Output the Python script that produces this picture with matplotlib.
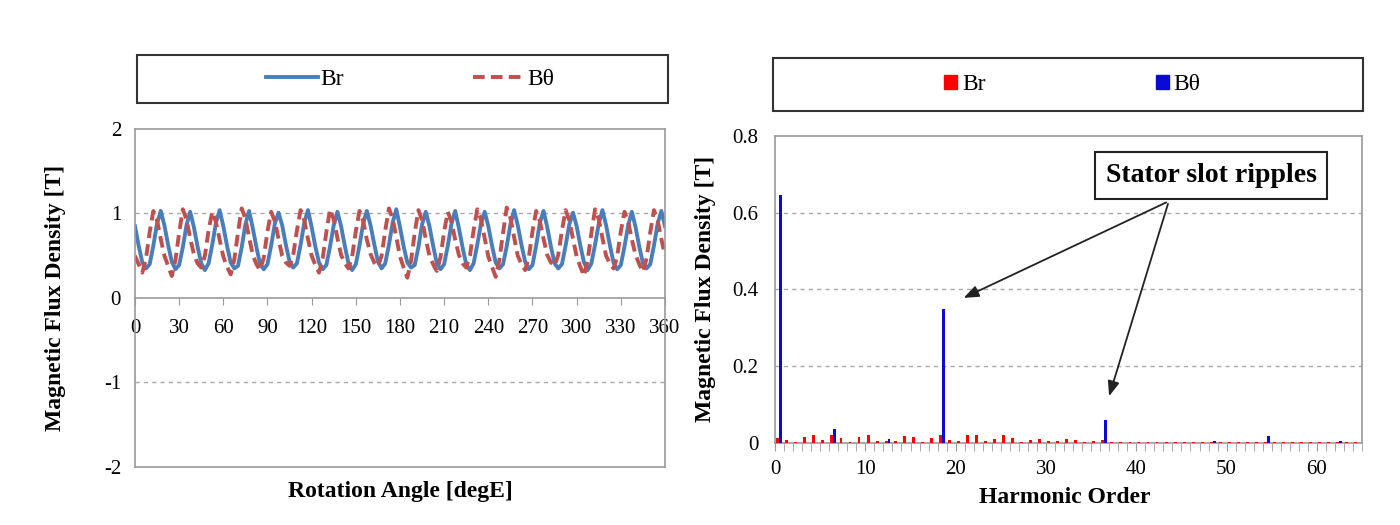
import numpy as np
import matplotlib
matplotlib.use("Agg")
import matplotlib.pyplot as plt
from matplotlib.patches import Rectangle, Patch
from matplotlib.lines import Line2D

plt.rcParams['font.family'] = ['Liberation Serif', 'DejaVu Serif']
plt.rcParams['axes.unicode_minus'] = False

# ---- left panel: waveforms, sampled every 2.5 degE ----
angle = np.linspace(0, 360, 145)
br = [
    0.85, 0.62, 0.42, 0.35, 0.40, 0.62, 0.88, 1.03,
    0.86, 0.63, 0.43, 0.34, 0.39, 0.60, 0.86, 1.02,
    0.84, 0.61, 0.41, 0.33, 0.41, 0.63, 0.89, 1.04,
    0.85, 0.62, 0.42, 0.35, 0.38, 0.60, 0.87, 1.03,
    0.83, 0.60, 0.40, 0.34, 0.40, 0.62, 0.88, 1.01,
    0.86, 0.63, 0.43, 0.36, 0.41, 0.63, 0.89, 1.04,
    0.84, 0.61, 0.42, 0.34, 0.39, 0.61, 0.86, 1.02,
    0.85, 0.62, 0.41, 0.33, 0.40, 0.62, 0.88, 1.03,
    0.86, 0.64, 0.43, 0.35, 0.41, 0.63, 0.89, 1.05,
    0.84, 0.61, 0.42, 0.36, 0.39, 0.60, 0.87, 1.02,
    0.85, 0.62, 0.41, 0.34, 0.40, 0.62, 0.88, 1.03,
    0.83, 0.60, 0.40, 0.33, 0.41, 0.63, 0.88, 1.02,
    0.85, 0.62, 0.42, 0.35, 0.40, 0.61, 0.87, 1.04,
    0.86, 0.63, 0.43, 0.34, 0.39, 0.62, 0.89, 1.03,
    0.84, 0.61, 0.41, 0.35, 0.40, 0.62, 0.87, 1.01,
    0.85, 0.62, 0.42, 0.33, 0.41, 0.63, 0.88, 1.04,
    0.86, 0.63, 0.42, 0.34, 0.39, 0.61, 0.86, 1.02,
    0.84, 0.61, 0.41, 0.35, 0.40, 0.62, 0.88, 1.03,
    0.85,
]
btheta = [
    0.50, 0.40, 0.30, 0.47, 0.78, 1.03, 0.92, 0.70,
    0.50, 0.38, 0.26, 0.45, 0.77, 1.05, 0.93, 0.71,
    0.52, 0.41, 0.36, 0.50, 0.80, 1.02, 0.90, 0.69,
    0.49, 0.37, 0.28, 0.46, 0.78, 1.06, 0.94, 0.72,
    0.51, 0.40, 0.33, 0.48, 0.79, 1.02, 0.91, 0.70,
    0.50, 0.42, 0.38, 0.51, 0.80, 1.04, 0.92, 0.70,
    0.50, 0.39, 0.30, 0.47, 0.78, 1.05, 0.93, 0.71,
    0.51, 0.41, 0.35, 0.49, 0.79, 1.03, 0.91, 0.69,
    0.52, 0.42, 0.37, 0.50, 0.80, 1.06, 0.94, 0.72,
    0.49, 0.36, 0.24, 0.44, 0.77, 1.04, 0.92, 0.70,
    0.50, 0.40, 0.32, 0.48, 0.79, 1.02, 0.90, 0.69,
    0.51, 0.41, 0.36, 0.50, 0.80, 1.05, 0.93, 0.71,
    0.49, 0.37, 0.25, 0.45, 0.77, 1.07, 0.95, 0.72,
    0.50, 0.40, 0.33, 0.48, 0.79, 1.03, 0.91, 0.70,
    0.51, 0.42, 0.38, 0.51, 0.80, 1.04, 0.92, 0.70,
    0.49, 0.37, 0.26, 0.45, 0.77, 1.05, 0.93, 0.71,
    0.50, 0.41, 0.35, 0.49, 0.79, 1.02, 0.90, 0.69,
    0.51, 0.40, 0.31, 0.47, 0.78, 1.04, 0.92, 0.70,
    0.50,
]

# ---- right panel: harmonic spectrum ----
order = np.arange(65)
br_harm = [
    0.013, 0.008, 0.002, 0.016, 0.020, 0.008, 0.020, 0.013, 0.002, 0.015,
    0.022, 0.005, 0.006, 0.004, 0.017, 0.015, 0.002, 0.014, 0.020, 0.007,
    0.004, 0.020, 0.020, 0.006, 0.010, 0.020, 0.012, 0.002, 0.008, 0.010,
    0.006, 0.006, 0.010, 0.008, 0.003, 0.006, 0.008, 0.002, 0.003, 0.002,
    0.003, 0.002, 0.002, 0.003, 0.002, 0.002, 0.003, 0.002, 0.002, 0.002,
    0.002, 0.003, 0.002, 0.002, 0.002, 0.002, 0.003, 0.002, 0.002, 0.002,
    0.002, 0.002, 0.002, 0.002, 0.002,
]
bt_harm = [0.0] * 65
bt_harm[0] = 0.645
bt_harm[6] = 0.037
bt_harm[12] = 0.010
bt_harm[18] = 0.350
bt_harm[36] = 0.060
bt_harm[48] = 0.005
bt_harm[54] = 0.019
bt_harm[62] = 0.006

gray = '#9a9a9a'
grid_kw = dict(color='#a8a8a8', linestyle=(0, (3, 3)), linewidth=1.0)

fig = plt.figure(figsize=(14, 5.25), dpi=100)

# left axes
ax1 = fig.add_axes([0.0964, 0.1105, 0.3786, 0.6438])
ax1.plot(angle, br, color='#4a7ebb', lw=2.8, label='Br')
ax1.plot(angle, btheta, color='#c0504d', lw=2.8, ls=(0, (3, 1.6)), label='Bθ')
ax1.set_xlim(0, 360)
ax1.set_ylim(-2, 2)
ax1.set_yticks([-2, -1, 0, 1, 2])
ax1.set_xticks(np.arange(0, 361, 30))
for y in (1, -1):
    ax1.axhline(y, **grid_kw, zorder=0)
ax1.spines['bottom'].set_position(('data', 0))
ax1.axhline(-2, color=gray, lw=1.2, clip_on=False)
for s in ax1.spines.values():
    s.set_color(gray)
    s.set_linewidth(1.2)
ax1.tick_params(axis='x', length=5, color=gray, labelsize=15, pad=10)
ax1.tick_params(axis='y', length=0, labelsize=15, pad=10)

# right axes
ax2 = fig.add_axes([0.5536, 0.1562, 0.4193, 0.5848])
ax2.bar(order + 0.3, br_harm, width=0.32, color='#ff0000', label='Br', zorder=3)
ax2.bar(order + 0.62, bt_harm, width=0.32, color='#0a0ad8', label='Bθ', zorder=3)
ax2.set_xlim(0, 65)
ax2.set_ylim(0, 0.8)
ax2.set_yticks([0, 0.2, 0.4, 0.6, 0.8])
ax2.set_yticklabels(['0', '0.2', '0.4', '0.6', '0.8'])
ax2.set_xticks(np.arange(0, 61, 10))
ax2.set_xticks(np.arange(0, 66, 1), minor=True)
for y in (0.2, 0.4, 0.6):
    ax2.axhline(y, **grid_kw, zorder=0)
for s in ax2.spines.values():
    s.set_color(gray)
    s.set_linewidth(1.2)
ax2.tick_params(axis='x', which='both', length=6, color=gray, labelsize=15, pad=6)
ax2.tick_params(axis='y', length=0, labelsize=15, pad=12)

# legends in framed boxes above the plots
fig.patches.append(Rectangle((0.0979, 0.8038), 0.3793, 0.0914, transform=fig.transFigure,
                             fill=False, edgecolor='#333333', lw=1.5))
fig.patches.append(Rectangle((0.5521, 0.7886), 0.4214, 0.101, transform=fig.transFigure,
                             fill=False, edgecolor='#333333', lw=1.5))
h1 = [Line2D([], [], color='#4a7ebb', lw=2.8),
      Line2D([], [], color='#c0504d', lw=2.8, ls=(0, (3, 1.6)))]
fig.legend(h1, ['Br', 'Bθ'], loc='center', bbox_to_anchor=(0.293, 0.8495), ncol=2,
           frameon=False, fontsize=17, handlelength=2.2, handletextpad=0.1, columnspacing=5.5)
h2 = [Patch(color='#ff0000'), Patch(color='#0a0ad8')]
fig.legend(h2, ['Br', 'Bθ'], loc='center', bbox_to_anchor=(0.766, 0.8391), ncol=2,
           frameon=False, fontsize=17, handlelength=0.55, handleheight=0.55,
           handletextpad=0.2, columnspacing=7.2)

# axis titles
fig.text(0.0393, 0.432, 'Magnetic Flux Density [T]', rotation=90, ha='center', va='center',
         fontsize=17, fontweight='bold')
fig.text(0.2857, 0.0629, 'Rotation Angle [degE]', ha='center', va='center',
         fontsize=17, fontweight='bold')
fig.text(0.5036, 0.45, 'Magnetic Flux Density [T]', rotation=90, ha='center', va='center',
         fontsize=17, fontweight='bold')
fig.text(0.7607, 0.0533, 'Harmonic Order', ha='center', va='center',
         fontsize=17, fontweight='bold')

# annotation
ax2.text(48.3, 0.697, 'Stator slot ripples', ha='center', va='center', fontsize=20,
         fontweight='bold', zorder=5,
         bbox=dict(boxstyle='square,pad=0.38', fc='white', ec='#222222', lw=1.5))
arrow_kw = dict(arrowstyle='-|>,head_length=0.9,head_width=0.35', color='#222222', lw=1.3)
ax2.annotate('', xy=(20.6, 0.375), xytext=(43.6, 0.63), arrowprops=arrow_kw, zorder=4)
ax2.annotate('', xy=(36.9, 0.115), xytext=(43.6, 0.63), arrowprops=arrow_kw, zorder=4)

fig.savefig('out.png', dpi=100)
